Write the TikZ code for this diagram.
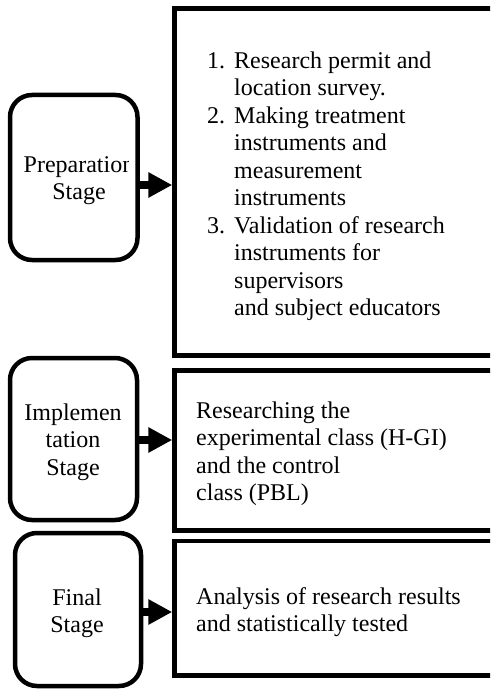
\documentclass[tikz,border=0pt]{standalone}
\usepackage{fontspec}
\setmainfont{Liberation Serif}
\usetikzlibrary{arrows.meta}

\begin{document}
\begin{tikzpicture}[x=1pt, y=-1pt,
    stagebox/.style ={rectangle, draw, line width=4.5pt, rounded corners=22pt, inner sep=0pt},
    taskbox/.style ={rectangle, draw, line width=4.5pt, inner sep=0pt},
    words/.style ={inner sep=0pt, font=\fontsize{24}{27.5}\selectfont},
    flow/.style ={line width=8pt, -{Triangle[length=24pt,width=24pt]}}]
   \clip (0,0) rectangle (490,690);

   % stages on the left
   \node[stagebox, minimum width=127.5pt, minimum height=165pt] (prep)  at (73.75,177.5) {};
   \node[stagebox, minimum width=127pt, minimum height=162pt]   (impl)  at (73.5,439)    {};
   \node[stagebox, minimum width=126pt, minimum height=153pt]   (final) at (78,609.5)    {};

   \begin{scope}
     \clip (0,0) rectangle (128,690);
     \node[words, anchor=north] (preptext) at (79,152.75)
       {\begin{tabular}{@{}c@{}}Preparation\\Stage\end{tabular}};
   \end{scope}
   \node[words, anchor=north] (impltext) at (73,400.75)
     {\begin{tabular}{@{}c@{}}Implemen\\tation\\Stage\end{tabular}};
   \node[words, anchor=north] (finaltext) at (77,585.75)
     {\begin{tabular}{@{}c@{}}Final\\Stage\end{tabular}};

   % activities on the right
   \node[taskbox, minimum width=345.5pt, minimum height=347pt] (permit)   at (347.25,182)   {};
   \node[taskbox, minimum width=345.5pt, minimum height=160pt] (research) at (347.25,450.5) {};
   \node[taskbox, minimum width=345.5pt, minimum height=134.5pt] (analysis) at (347.25,608.25) {};

   \node[words, anchor=north west] (permittext) at (207,48.75)
     {\begin{tabular}{@{}l@{\hspace{9pt}}l@{}}
       1. & Research permit and\\
          & location survey.\\
       2. & Making treatment\\
          & instruments and\\
          & measurement\\
          & instruments\\
       3. & Validation of research\\
          & instruments for\\
          & supervisors\\
          & and subject educators
     \end{tabular}};
   \node[words, anchor=north west] (researchtext) at (196,398.75)
     {\begin{tabular}{@{}l@{}}Researching the\\experimental class (H-GI)\\and the control\\class (PBL)\end{tabular}};
   \node[words, anchor=north west] (analysistext) at (196,585)
     {\begin{tabular}{@{}l@{}}Analysis of research results\\and statistically tested\end{tabular}};

   \draw[flow] ([yshift=-7.5pt]prep.east) -- ([yshift=-3pt]permit.west);
   \draw[flow] ([yshift=-1pt]impl.east)   -- ([yshift=10.5pt]research.west);
   \draw[flow] ([yshift=-2.5pt]final.east) -- ([yshift=-3.75pt]analysis.west);
\end{tikzpicture}
\end{document}
